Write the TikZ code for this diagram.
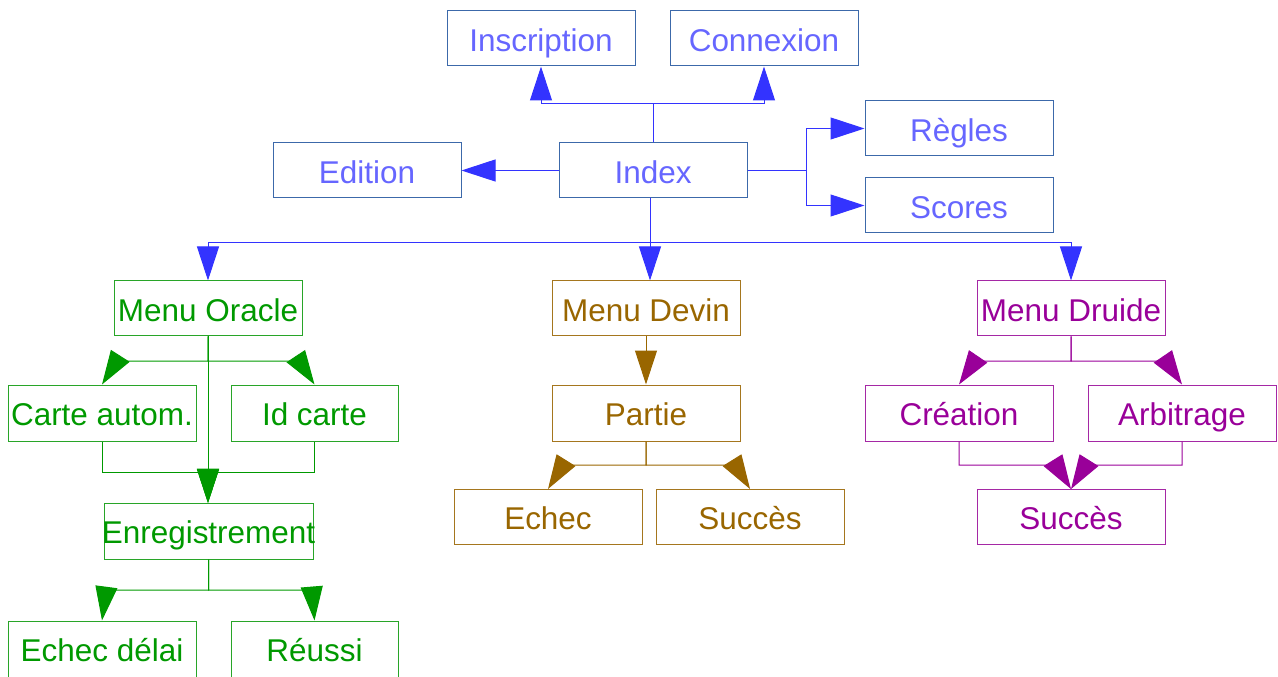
\documentclass[tikz,border=0pt]{standalone}
\usepackage{fontspec}
\setmainfont{Liberation Sans}
\usetikzlibrary{arrows.meta,calc}
\definecolor{btext}{RGB}{102,102,255}
\definecolor{bborder}{RGB}{60,105,170}
\definecolor{bline}{RGB}{51,51,255}
\definecolor{gtext}{RGB}{0,153,0}
\definecolor{gborder}{RGB}{40,165,40}
\definecolor{ntext}{RGB}{153,102,0}
\definecolor{nborder}{RGB}{165,118,30}
\definecolor{ptext}{RGB}{153,0,153}
\definecolor{pborder}{RGB}{165,40,165}
\tikzset{
  box/.style={draw, line width=0.75pt, minimum width=141pt, minimum height=41.25pt, inner sep=0pt,
    font=\fontsize{23.6pt}{28pt}\selectfont, text height=18.8pt, text depth=0pt},
  bbox/.style={box, draw=bborder, text=btext},
  gbox/.style={box, draw=gborder, text=gtext},
  nbox/.style={box, draw=nborder, text=ntext},
  pbox/.style={box, draw=pborder, text=ptext},
  conn/.style={line width=0.75pt, -{Triangle[length=25.5pt,width=16.5pt]}},
  bconn/.style={conn, draw=bline},
  gconn/.style={conn, draw=gtext},
  nconn/.style={conn, draw=ntext},
  pconn/.style={conn, draw=ptext},
}
\begin{document}
\begin{tikzpicture}[x=0.75pt,y=-0.75pt]
\useasboundingbox (0,0) rectangle (1278,677);
% top group
\node[bbox] (insc) at (541,38.5) {Inscription};
\node[bbox] (conn) at (764,38.5) {Connexion};
\node[bbox] (edition) at (367,170.5) {Edition};
\node[bbox] (index) at (653,170.5) {Index};
\node[bbox] (regles) at (959,128.5) {Règles};
\node[bbox] (scores) at (959,205.5) {Scores};
% menus
\node[gbox] (oracle) at (208,308.5) {Menu Oracle};
\node[nbox] (devin) at (646,308.5) {Menu Devin};
\node[pbox] (druide) at (1071,308.5) {Menu Druide};
% oracle branch
\node[gbox, minimum height=42pt] (carte) at (102,413) {Carte autom.};
\node[gbox, minimum height=42pt, minimum width=125.25pt] (idcarte) at (314.5,413) {Id carte};
\node[gbox, minimum height=42pt, minimum width=156.75pt] (enreg) at (208.5,531) {\makebox[0pt][c]{Enregistrement}};
\node[gbox, minimum height=42pt] (echecdelai) at (102,649) {Echec délai};
\node[gbox, minimum height=42pt, minimum width=125.25pt] (reussi) at (314.5,649) {Réussi};
% devin branch
\node[nbox, minimum height=42pt] (partie) at (646,413) {Partie};
\node[nbox] (echec) at (548,517) {Echec};
\node[nbox] (succesd) at (750,517) {Succès};
% druide branch
\node[pbox, minimum height=42pt] (creation) at (959,413) {Création};
\node[pbox, minimum height=42pt] (arbitrage) at (1182,413) {Arbitrage};
\node[pbox] (succesp) at (1071,517) {Succès};

% blue connectors
\draw[bconn] (index.north) -- (653,104) -| (insc.south);
\draw[bconn] (index.north) -- (653,104) -| (conn.south);
\draw[bconn] (index.west) -- (edition.east);
\draw[bconn] (index.east) -- (806,170.5) |- (regles.west);
\draw[bconn] (index.east) -- (806,170.5) |- (scores.west);
\coordinate (ib) at (650,198);
\draw[bconn] (ib) -- (ib |- devin.north);
\draw[bconn] (ib) -- (650,243) -| (oracle.north);
\draw[bconn] (ib) -- (650,243) -| (druide.north);

% green connectors
\draw[gconn] (oracle.south) -- (enreg.north -| oracle.south);
\draw[gconn] (oracle.south) -- (208,361) -- (117,361) -- (carte.north);
\draw[gconn] (oracle.south) -- (208,361) -- (299,361) -- (idcarte.north);
\draw[gconn] (carte.south) -- (102,472) -- (208,472) -- (208,503);
\draw[gconn] (idcarte.south) -- (314.5,472) -- (208,472) -- (208,503);
\draw[gconn] (enreg.south) -- (208.5,590) -- (106,590) -- (echecdelai.north);
\draw[gconn] (enreg.south) -- (208.5,590) -- (312,590) -- (reussi.north);

% brown connectors
\draw[nconn] (devin.south) -- (partie.north);
\draw[nconn] (partie.south) -- (646,465) -- (563,465) -- (echec.north);
\draw[nconn] (partie.south) -- (646,465) -- (735,465) -- (succesd.north);

% purple connectors
\draw[pconn] (druide.south) -- (1071,361) -- (975,361) -- (creation.north);
\draw[pconn] (druide.south) -- (1071,361) -- (1166,361) -- (arbitrage.north);
\draw[pconn] (creation.south) -- (959,465) -- (1056,465) -- (succesp.north);
\draw[pconn] (arbitrage.south) -- (1182,465) -- (1086,465) -- (succesp.north);
\end{tikzpicture}
\end{document}
